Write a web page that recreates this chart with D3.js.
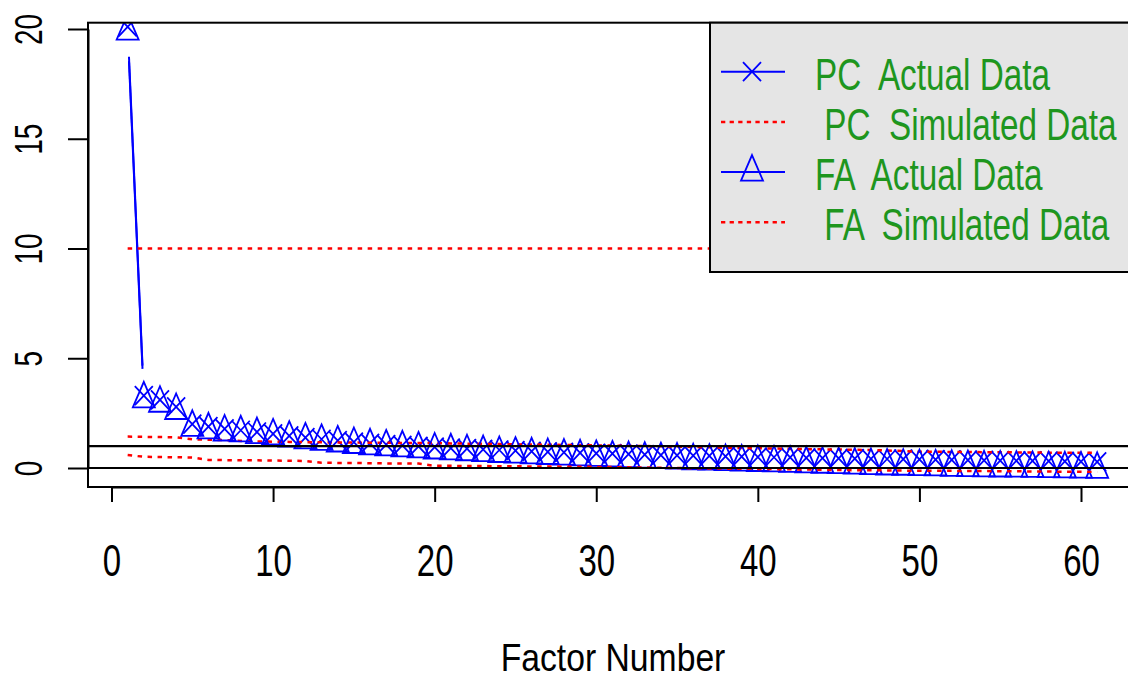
<!DOCTYPE html>
<html>
<head>
<meta charset="utf-8">
<script src="https://cdnjs.cloudflare.com/ajax/libs/d3/7.8.5/d3.min.js"></script>
<style>
  body { margin: 0; background: #fff; }
  svg { display: block; }
  text { font-family: "Liberation Sans", Arial, sans-serif; }
</style>
</head>
<body>
<div id="chart"></div>
<script>

// eigenvalues, factor 1..61
var pcActual = [20.1, 3.3, 3.1, 2.78, 2.0, 1.88, 1.78, 1.72, 1.64, 1.56,
  1.46, 1.38, 1.31, 1.25, 1.18, 1.12, 1.07, 1.03, 0.99, 0.95,
  0.91, 0.88, 0.85, 0.82, 0.79, 0.76, 0.74, 0.71, 0.69, 0.67,
  0.65, 0.63, 0.61, 0.59, 0.58, 0.56, 0.55, 0.53, 0.52, 0.5,
  0.49, 0.48, 0.46, 0.45, 0.44, 0.43, 0.42, 0.41, 0.4, 0.39,
  0.38, 0.37, 0.36, 0.35, 0.34, 0.33, 0.32, 0.31, 0.3, 0.29, 0.28];

var faActual = [19.9, 3.15, 2.95, 2.62, 1.85, 1.74, 1.64, 1.6, 1.52, 1.46,
  1.36, 1.28, 1.21, 1.14, 1.07, 1.01, 0.96, 0.92, 0.87, 0.82,
  0.78, 0.74, 0.7, 0.66, 0.63, 0.6, 0.57, 0.54, 0.51, 0.48,
  0.46, 0.43, 0.4, 0.38, 0.36, 0.33, 0.31, 0.29, 0.27, 0.25,
  0.23, 0.21, 0.19, 0.17, 0.15, 0.13, 0.11, 0.09, 0.08, 0.06,
  0.05, 0.03, 0.02, 0.01, 0.0, -0.01, -0.02, -0.03, -0.04, -0.05, -0.06];

var pcSim = [1.43, 1.42, 1.41, 1.4, 1.31, 1.29, 1.27, 1.23, 1.21, 1.2,
  1.19, 1.18, 1.17, 1.16, 1.16, 1.15, 1.15, 1.14, 1.14, 1.13,
  1.12, 1.11, 1.1, 1.09, 1.08, 1.07, 1.06, 1.05, 1.04, 1.03,
  1.02, 1.01, 1.0, 0.99, 0.97, 0.96, 0.94, 0.92, 0.91, 0.9,
  0.89, 0.87, 0.86, 0.85, 0.84, 0.83, 0.82, 0.8, 0.77, 0.74,
  0.74, 0.73, 0.73, 0.72, 0.72, 0.71, 0.71, 0.7, 0.7, 0.69, 0.69];

var faSim = [0.59, 0.51, 0.5, 0.49, 0.48, 0.37, 0.36, 0.35, 0.35, 0.34,
  0.33, 0.32, 0.24, 0.23, 0.23, 0.22, 0.21, 0.21, 0.2, 0.1,
  0.1, 0.09, 0.09, 0.08, 0.08, 0.07, 0.07, 0.06, 0.06, 0.05,
  0.04, 0.03, 0.02, 0.01, 0.0, -0.01, -0.02, -0.03, -0.03, -0.04,
  -0.05, -0.06, -0.07, -0.08, -0.09, -0.1, -0.1, -0.11, -0.12, -0.12,
  -0.13, -0.13, -0.14, -0.14, -0.15, -0.15, -0.16, -0.16, -0.17, -0.17, -0.18];

var flatSim = 10;        // the extra dotted level across all factors
var refLevels = [1, 0];  // black horizontal lines

var xTicks = [0, 10, 20, 30, 40, 50, 60];
var yTicks = [0, 5, 10, 15, 20];
var xTitle = "Factor Number";
var legendLabels = ["PC  Actual Data", " PC  Simulated Data", "FA  Actual Data", " FA  Simulated Data"];

var factors = pcActual.map(function(d, i) { return i + 1; });

var width = 1128, height = 680;
var box = { left: 88, top: 22.7, right: 1134, bottom: 487 };

var blue = "#0000ff", red = "#ff0000", green = "#1e961e";

var svg = d3.select("#chart").append("svg")
  .attr("width", width)
  .attr("height", height);

var x = d3.scaleLinear().domain([0, 60]).range([111.5, 1081]);
var y = d3.scaleLinear().domain([0, 20]).range([468, 29]);

// clip everything to the plot box
svg.append("clipPath").attr("id", "plotclip")
  .append("rect")
  .attr("x", box.left).attr("y", box.top)
  .attr("width", box.right - box.left).attr("height", box.bottom - box.top);

var plot = svg.append("g").attr("clip-path", "url(#plotclip)");

// markers ====================

var crossPath = "M-9,-9.5L9,9.5M-9,9.5L9,-9.5";
var triPath = "M0,-17L11,8.5L-11,8.5Z";

// type "b" lines: segments only drawn outside a gap round each point
var gappedPath = function(vals, gap) {
  var p = "";
  for (var i = 0; i < vals.length - 1; i++) {
    var x1 = x(factors[i]), y1 = y(vals[i]);
    var x2 = x(factors[i + 1]), y2 = y(vals[i + 1]);
    var dx = x2 - x1, dy = y2 - y1;
    var len = Math.sqrt(dx * dx + dy * dy);
    if (len <= 2 * gap) continue;
    var ux = dx / len, uy = dy / len;
    p += "M" + (x1 + ux * gap) + "," + (y1 + uy * gap) +
         "L" + (x2 - ux * gap) + "," + (y2 - uy * gap);
  }
  return p;
};

var simLine = d3.line()
  .x(function(d, i) { return x(factors[i]); })
  .y(function(d) { return y(d); });

// PC actual
plot.append("path")
  .attr("d", gappedPath(pcActual, 30))
  .attr("fill", "none").attr("stroke", blue).attr("stroke-width", 2);

plot.selectAll(".pcpt").data(pcActual).enter().append("path")
  .attr("class", "pcpt")
  .attr("d", crossPath)
  .attr("transform", function(d, i) { return "translate(" + x(factors[i]) + "," + y(d) + ")"; })
  .attr("fill", "none").attr("stroke", blue).attr("stroke-width", 1.8);

// PC simulated
plot.append("path")
  .attr("d", simLine(pcSim))
  .attr("fill", "none").attr("stroke", red).attr("stroke-width", 2.5)
  .attr("stroke-dasharray", "4.5,5.5");

// FA actual
plot.append("path")
  .attr("d", gappedPath(faActual, 30))
  .attr("fill", "none").attr("stroke", blue).attr("stroke-width", 2);

plot.selectAll(".fapt").data(faActual).enter().append("path")
  .attr("class", "fapt")
  .attr("d", triPath)
  .attr("transform", function(d, i) { return "translate(" + x(factors[i]) + "," + y(d) + ")"; })
  .attr("fill", "none").attr("stroke", blue).attr("stroke-width", 1.8);

// FA simulated
plot.append("path")
  .attr("d", simLine(faSim))
  .attr("fill", "none").attr("stroke", red).attr("stroke-width", 2.5)
  .attr("stroke-dasharray", "4.5,5.5");

// flat dotted level
plot.append("line")
  .attr("x1", x(factors[0])).attr("x2", x(factors[factors.length - 1]))
  .attr("y1", y(flatSim)).attr("y2", y(flatSim))
  .attr("stroke", red).attr("stroke-width", 2.5)
  .attr("stroke-dasharray", "4.5,5.5");

// reference lines
plot.selectAll(".ref").data(refLevels).enter().append("line")
  .attr("class", "ref")
  .attr("x1", box.left).attr("x2", box.right)
  .attr("y1", function(d) { return y(d); })
  .attr("y2", function(d) { return y(d); })
  .attr("stroke", "#000").attr("stroke-width", 2.2);

// box + axes ====================

svg.append("rect")
  .attr("x", box.left).attr("y", box.top)
  .attr("width", box.right - box.left).attr("height", box.bottom - box.top)
  .attr("fill", "none").attr("stroke", "#000").attr("stroke-width", 2);

var xAxis = svg.append("g")
  .attr("transform", "translate(0," + box.bottom + ")")
  .call(d3.axisBottom(x).tickValues(xTicks).tickSize(15).tickSizeOuter(0));

var yAxis = svg.append("g")
  .attr("transform", "translate(" + box.left + ",0)")
  .call(d3.axisLeft(y).tickValues(yTicks).tickSize(20).tickSizeOuter(0));

[xAxis, yAxis].forEach(function(g) {
  g.attr("font-family", null).attr("font-size", null);
  g.selectAll("path, line").attr("stroke", "#000").attr("stroke-width", 2);
});

xAxis.selectAll("text")
  .attr("y", null).attr("dy", null)
  .attr("transform", "translate(0,89) scale(1,1.35)")
  .attr("text-anchor", "middle")
  .attr("font-size", 33)
  .attr("fill", "#000");

yAxis.selectAll("text")
  .attr("x", null).attr("dy", null)
  .attr("transform", "translate(-46,0) rotate(-90) scale(1,1.4)")
  .attr("text-anchor", "middle")
  .attr("font-size", 28)
  .attr("fill", "#000");

svg.append("text")
  .attr("transform", "translate(613,671) scale(1,1.16)")
  .attr("text-anchor", "middle")
  .attr("font-size", 33.7)
  .attr("fill", "#000")
  .text(xTitle);

// legend ====================

var legend = svg.append("g");

legend.append("rect")
  .attr("x", 710).attr("y", box.top)
  .attr("width", 440).attr("height", 272 - box.top)
  .attr("fill", "#e5e5e5").attr("stroke", "#000").attr("stroke-width", 2);

var legendStyle = [
  { color: blue, dash: null, mark: crossPath },
  { color: red, dash: "4.3,4.3", mark: null },
  { color: blue, dash: null, mark: triPath },
  { color: red, dash: "4.3,4.3", mark: null }
];

var rows = legend.selectAll(".row").data(legendLabels).enter().append("g")
  .attr("class", "row")
  .attr("transform", function(d, i) { return "translate(0," + (71.7 + i * 50.2) + ")"; });

rows.append("line")
  .attr("x1", 721).attr("x2", 785)
  .attr("stroke", function(d, i) { return legendStyle[i].color; })
  .attr("stroke-width", function(d, i) { return legendStyle[i].dash ? 2.5 : 2; })
  .attr("stroke-dasharray", function(d, i) { return legendStyle[i].dash; });

rows.filter(function(d, i) { return legendStyle[i].mark; })
  .append("path")
  .attr("d", function(d) { return legendStyle[legendLabels.indexOf(d)].mark; })
  .attr("transform", "translate(752,0)")
  .attr("fill", "none").attr("stroke", blue).attr("stroke-width", 1.8);

rows.append("text")
  .attr("transform", "translate(815,18) scale(1,1.34)")
  .attr("font-size", 33.3)
  .attr("fill", green)
  .style("white-space", "pre")
  .text(function(d) { return d; });

</script>
</body>
</html>
